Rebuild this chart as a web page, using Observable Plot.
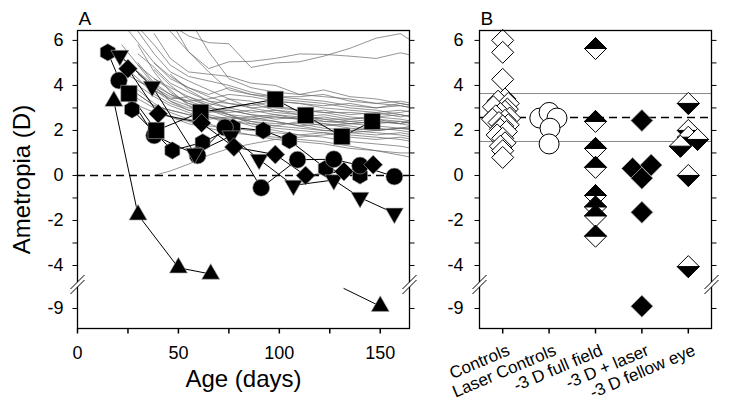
<!DOCTYPE html>
<html><head><meta charset="utf-8">
<script src="https://cdn.jsdelivr.net/npm/d3@7"></script>
<script src="https://cdn.jsdelivr.net/npm/@observablehq/plot@0.6"></script>
<style>
body{margin:0;background:#fff;}
#wrap{position:relative;width:729px;height:408px;overflow:hidden;background:#fff;}
#wrap svg{position:absolute;top:0;}
</style></head><body><div id="wrap"></div>
<script>
// ---------- Panel A data ----------
const controlAges = [22, 30, 38, 46, 55, 65, 75, 86, 98, 110, 122, 135, 148, 160, 166];
const n = null;
const controlCurves = [
  [n, n, 7.2, 6.7, 6.2, 5.9, 5.85, 4.8, 5.0, 5.05, 5.3, 5.65, 6.1, 6.3, 5.95],
  [n, n, n, 6.9, 5.5, 4.75, 5.05, 5.07, 5.2, 5.4, 5.38, 5.3, 5.2, 5.45, 5.33],
  [7.2, 6.4, 5.4, 4.6, 4.2, 3.8, 3.4, 3.3, 3.0, 2.9, 2.8, 2.6, 2.5, 2.4, 2.3],
  [6.8, 5.9, 5.0, 4.3, 3.9, 3.5, 3.2, 3.1, 3.3, 3.2, 3.0, 2.9, 2.8, 2.9, 2.8],
  [n, 6.6, 5.8, 4.9, 4.4, 4.2, 4.0, 3.7, 3.5, 3.4, 3.3, 3.1, 3.0, 3.1, 3.0],
  [5.2, 4.6, 4.0, 3.6, 3.2, 3.0, 2.9, 2.7, 2.6, 2.5, 2.6, 2.4, 2.3, 2.4, 2.3],
  [n, 5.4, 4.8, 4.1, 3.7, 3.3, 3.0, 2.8, 2.9, 2.7, 2.5, 2.5, 2.6, 2.5, 2.4],
  [n, n, 6.3, 5.2, 4.6, 4.5, 4.4, 4.1, 4.0, 3.6, 3.5, 3.4, 3.2, 3.1, 3.0],
  [4.6, 4.2, 3.8, 3.4, 3.1, 2.9, 2.6, 2.5, 2.4, 2.2, 2.3, 2.1, 2.0, 2.1, 2.0],
  [n, 4.9, 4.3, 3.9, 3.5, 3.1, 2.7, 2.4, 2.2, 2.1, 2.0, 1.9, 1.8, 1.9, 1.8],
  [n, 5.8, 4.6, 3.7, 3.2, 2.9, 2.8, 2.9, 2.7, 2.6, 2.7, 2.5, 2.6, 2.7, 2.6],
  [n, n, 5.0, 4.4, 3.9, 3.6, 3.9, 3.6, 3.4, 3.3, 3.2, 3.0, 2.9, 2.7, 2.6],
  [4.2, 3.6, 3.1, 2.9, 2.7, 2.6, 2.4, 2.3, 2.2, 2.4, 2.2, 2.3, 2.2, 2.1, 2.2],
  [n, 4.5, 3.9, 3.4, 3.5, 3.2, 3.0, 3.2, 2.9, 2.8, 2.9, 2.7, 2.8, 2.6, 2.7],
  [n, n, 4.7, 4.0, 3.4, 3.1, 3.4, 3.0, 2.8, 2.7, 2.4, 2.4, 2.5, 2.3, 2.2],
  [3.9, 3.4, 3.0, 2.6, 2.4, 2.2, 2.1, 2.0, 1.9, 1.8, 1.9, 1.7, 1.6, 1.7, 1.6],
  [n, 4.0, 3.5, 3.1, 2.8, 2.5, 2.6, 2.4, 2.3, 2.3, 2.1, 2.0, 2.1, 2.0, 1.9],
  [n, n, 4.3, 3.8, 3.1, 2.6, 2.3, 2.5, 2.6, 2.5, 2.4, 2.3, 2.4, 2.3, 2.5],
  [5.8, 4.9, 4.0, 3.3, 2.9, 2.7, 2.5, 2.2, 2.0, 1.8, 1.7, 1.5, 1.4, 1.3, 1.2],
  [n, 3.8, 3.2, 2.8, 2.5, 2.3, 2.0, 1.8, 1.7, 1.6, 1.5, 1.3, 1.1, 1.0, 1.0],
  [n, n, 0.0, 0.2, 0.5, 0.9, 1.2, 1.4, 1.6, 1.7, 1.8, 1.9, 2.0, 2.1, 2.1],
  [n, 5.0, 4.1, 3.6, 3.3, 3.4, 3.6, 3.5, 3.3, 3.2, 3.1, 3.2, 3.0, 3.2, 3.1],
  [n, n, n, 4.5, 3.8, 3.3, 3.2, 3.0, 3.1, 2.9, 2.8, 2.8, 2.7, 2.8, 2.9],
  [4.9, 4.3, 3.6, 3.2, 2.9, 2.8, 2.9, 2.7, 2.5, 2.6, 2.5, 2.3, 2.4, 2.3, 2.4],
  [n, 4.2, 3.8, 3.3, 3.0, 2.9, 2.7, 2.6, 2.7, 2.5, 2.3, 2.2, 2.0, 2.1, 2.1],
  [n, n, 3.9, 3.5, 3.3, 3.0, 2.7, 2.3, 2.1, 2.0, 1.9, 1.8, 1.7, 1.6, 1.5],
  [3.5, 3.1, 2.8, 2.6, 2.3, 2.1, 1.9, 1.8, 1.6, 1.5, 1.4, 1.2, 1.1, 0.9, 0.8],
  [n, n, n, 6.4, 5.5, 4.6, 3.8, 3.6, 3.5, 3.5, 3.6, 3.3, 3.2, 3.3, 3.2],
  [n, 3.6, 3.1, 2.9, 2.7, 2.6, 2.5, 2.6, 2.4, 2.2, 2.0, 2.0, 1.9, 1.8, 1.7],
  [n, n, n, n, 7.0, 5.5, 4.3, 3.9, 3.7, 3.6, 3.8, 3.5, 3.4, 3.2, 3.1]
];
const hexagonAges = [15, 27, 47, 62, 77, 92, 105, 123, 140];
const hexagonVals = [5.47, 2.93, 1.11, 1.47, 2.13, 2.0, 1.56, 0.31, 0.0];
const circleAges = [20.5, 38, 59.5, 73, 91, 109, 127, 140, 157];
const circleVals = [4.22, 1.78, 0.89, 2.13, -0.55, 0.7, 0.72, 0.44, -0.05];
const squareAges = [25.5, 39, 61, 98, 113, 131, 146];
const squareVals = [3.64, 2.0, 2.8, 3.38, 2.67, 1.73, 2.4];
const triDownAges = [21, 37, 58, 76, 90, 107, 127, 140, 157];
const triDownVals = [5.33, 3.96, 0.98, 1.75, 0.71, -0.44, -0.2, -0.98, -1.68];
const diamondAges = [25, 40, 61.5, 77.5, 98, 113, 132, 146.5];
const diamondVals = [4.74, 2.74, 2.33, 1.26, 0.93, 0.0, 0.18, 0.48];
const triUpAges = [18, 30, 50, 66];
const triUpVals = [3.3, -1.75, -4.1, -4.38];
const triUpTailAges = [132, 150];
const triUpTailVals = [-8.11, -8.9];

const xMajorA = [0, 50, 100, 150];
const xMinorA = [25, 75, 125];
const yMajor = [-9, -4, -2, 0, 2, 4, 6];
const yMinor = [-3, -1, 1, 3, 5];

// ---------- Panel B data ----------
const categories = ["Controls", "Laser Controls", "-3 D full field", "-3 D + laser", "-3 D fellow eye"];
const controlsVals = [6.0, 5.47, 4.27, 3.4, 3.3, 3.2, 3.05, 2.95, 2.85, 2.75, 2.65, 2.55, 2.5, 2.45, 2.35, 2.25, 2.2, 2.05, 1.95, 1.8, 1.65, 1.45, 1.3, 1.1, 0.8];
const controlsOffset = [0, 0, 0, 0.05, -0.1, 0.12, -0.2, 0.1, 0.05, -0.05, -0.15, 0.15, -0.22, 0.05, -0.08, 0.12, 0, -0.05, 0.08, -0.12, 0, 0.05, -0.05, 0, 0];
const laserControlVals = [2.55, 2.8, 2.55, 2.1, 1.4];
const laserControlOffset = [-0.2, 0, 0.17, 0.02, 0];
const fullFieldVals = [5.64, 2.4, 1.2, 0.36, -0.89, -1.4, -1.8, -2.7];
const laserVals = [2.44, 0.31, -0.12, 0.46, -1.64, -8.9];
const laserOffset = [0, -0.2, 0, 0.2, 0, 0];
const fellowVals = [3.2, 2.0, 1.7, 1.6, 1.3, 0.0, -4.05];
const fellowOffset = [0, 0, 0, 0.2, -0.17, 0, 0];
const controlMean = 2.58, controlUpper = 3.64, controlLower = 1.51;

// ---------- scales ----------
const yDomain = [-9.89, -8, -4.6, 6.44];
const yRange = [328, 285.5, 278.5, 30];
const yBreak = -7.27;
const font = "'Liberation Sans', Arial, Helvetica, sans-serif";

// ---------- custom symbols ----------
const R = s => Math.sqrt(s / Math.PI);
const sym = {
  circle: {draw(c, s) { const r = R(s); c.moveTo(r, 0); c.arc(0, 0, r, 0, 2 * Math.PI); }},
  square: {draw(c, s) { const r = R(s); c.rect(-r, -r, 2 * r, 2 * r); }},
  diamond: {draw(c, s) { const r = R(s); c.moveTo(0, -r); c.lineTo(r, 0); c.lineTo(0, r); c.lineTo(-r, 0); c.closePath(); }},
  hexagon: {draw(c, s) { const r = R(s); for (let k = 0; k < 6; k++) { const a = Math.PI / 3 * k - Math.PI / 2; const px = r * Math.cos(a), py = r * Math.sin(a); if (k) c.lineTo(px, py); else c.moveTo(px, py); } c.closePath(); }},
  triUp: {draw(c, s) { const r = R(s); c.moveTo(0, -1.155 * r); c.lineTo(r, 0.577 * r); c.lineTo(-r, 0.577 * r); c.closePath(); }},
  triDown: {draw(c, s) { const r = R(s); c.moveTo(0, 1.155 * r); c.lineTo(r, -0.577 * r); c.lineTo(-r, -0.577 * r); c.closePath(); }},
  topHalf: {draw(c, s) { const r = R(s); c.moveTo(-r, 0); c.lineTo(0, -r); c.lineTo(r, 0); c.closePath(); }},
  bottomHalf: {draw(c, s) { const r = R(s); c.moveTo(-r, 0); c.lineTo(0, r); c.lineTo(r, 0); c.closePath(); }},
  tickLeft: {draw(c) { c.moveTo(-5, 0); c.lineTo(0, 0); }},
  tickRight: {draw(c) { c.moveTo(0, 0); c.lineTo(5, 0); }},
  tickDown: {draw(c) { c.moveTo(0, 0); c.lineTo(0, 5); }},
  breakMask: {draw(c) { c.moveTo(-7, 9.5); c.lineTo(7, -4.5); c.lineTo(7, -9.5); c.lineTo(-7, 4.5); c.closePath(); }},
  breakSlash: {draw(c) { c.moveTo(-7, 9.5); c.lineTo(7, -4.5); c.moveTo(-7, 4.5); c.lineTo(7, -9.5); }}
};

function axisMarks(xmin, xmax, labelDx) {
  return [
    Plot.frame({stroke: "black", strokeWidth: 1.3}),
    Plot.dot(yMajor.concat(yMinor), {x: () => xmin, y: d => d, symbol: sym.tickLeft, stroke: "black", fill: "none", strokeWidth: 1}),
    Plot.dot(yMajor.concat(yMinor), {x: () => xmax, y: d => d, symbol: sym.tickRight, stroke: "black", fill: "none", strokeWidth: 1}),
    Plot.dot([xmin, xmax], {x: d => d, y: () => yBreak, symbol: sym.breakMask, fill: "white", stroke: "none"}),
    Plot.dot([xmin, xmax], {x: d => d, y: () => yBreak, symbol: sym.breakSlash, fill: "none", stroke: "black", strokeWidth: 1}),
    Plot.text(yMajor, {y: d => d, frameAnchor: "left", dx: labelDx, textAnchor: "end", lineAnchor: "middle", text: d => String(d), fontSize: 18, fill: "black"})
  ];
}

// half-filled diamonds, drawn point by point so later points overlap earlier ones
function halfDiamonds(rows, half) {
  return rows.flatMap(r => [
    Plot.dot([r], {x: "x", y: "v", symbol: sym.diamond, r: 11, fill: "white", stroke: "black", strokeWidth: 1}),
    Plot.dot([r], {x: "x", y: "v", symbol: half, r: 11, fill: "black", stroke: "black", strokeWidth: 1})
  ]);
}

// ---------- Panel A ----------
const controlRows = [];
controlCurves.forEach((vals, id) => vals.forEach((v, i) => { if (v !== null) controlRows.push({id, age: controlAges[i], v}); }));
const seriesA = [
  {name: "hexagon", ages: hexagonAges, vals: hexagonVals, r: 8.7},
  {name: "circle", ages: circleAges, vals: circleVals, r: 8.5},
  {name: "square", ages: squareAges, vals: squareVals, r: 8.2},
  {name: "triDown", ages: triDownAges, vals: triDownVals, r: 9},
  {name: "diamond", ages: diamondAges, vals: diamondVals, r: 9.5},
  {name: "triUp", ages: triUpAges, vals: triUpVals, r: 9}
];
const rowsA = seriesA.flatMap(s => s.ages.map((a, i) => ({series: s.name, age: a, v: s.vals[i]})));
const tailRows = triUpTailAges.map((a, i) => ({age: a, v: triUpTailVals[i]}));

const plotA = Plot.plot({
  width: 420, height: 408,
  marginLeft: 77, marginRight: 11, marginTop: 30, marginBottom: 80,
  x: {type: "linear", domain: [0, 164.5], axis: null},
  y: {type: "linear", domain: yDomain, range: yRange, axis: null},
  style: {fontFamily: font, background: "white", color: "black", overflow: "visible"},
  marks: [
    Plot.line(controlRows, {x: "age", y: "v", z: "id", stroke: "#666", strokeWidth: 0.7, clip: true}),
    Plot.ruleY([0], {stroke: "black", strokeWidth: 1.5, strokeDasharray: "8,5"}),
    Plot.line(rowsA, {x: "age", y: "v", z: "series", stroke: "black", strokeWidth: 1}),
    Plot.line(tailRows, {x: "age", y: "v", stroke: "black", strokeWidth: 1}),
    ...seriesA.map(s => Plot.dot(rowsA.filter(d => d.series === s.name), {x: "age", y: "v", symbol: sym[s.name], r: s.r, fill: "black", stroke: "#aaa", strokeWidth: 0.6})),
    Plot.dot(tailRows.slice(-1), {x: "age", y: "v", symbol: sym.triUp, r: 9, fill: "black", stroke: "#aaa", strokeWidth: 0.6}),
    ...axisMarks(0, 164.5, -14),
    Plot.dot(xMajorA.concat(xMinorA), {x: d => d, y: () => yDomain[0], symbol: sym.tickDown, stroke: "black", fill: "none"}),
    Plot.text(xMajorA, {x: d => d, frameAnchor: "bottom", dy: 25, lineAnchor: "middle", text: d => String(d), fontSize: 18, fill: "black"}),
    Plot.text(["Age (days)"], {frameAnchor: "bottom", dy: 51, lineAnchor: "middle", text: d => d, fontSize: 24, fill: "black"}),
    Plot.text(["Ametropia (D)"], {frameAnchor: "left", dx: -55, rotate: -90, textAnchor: "middle", lineAnchor: "middle", text: d => d, fontSize: 24, fill: "black"}),
    Plot.text(["A"], {frameAnchor: "top-left", dx: 1, dy: -12, textAnchor: "start", lineAnchor: "middle", text: d => d, fontSize: 19, fill: "black"})
  ]
});

// ---------- Panel B ----------
const mk = (vals, idx, off) => vals.map((v, i) => ({x: idx + (off ? off[i] : 0), v}));
const ctrlRows = mk(controlsVals, 0, controlsOffset);
const lctrlRows = mk(laserControlVals, 1, laserControlOffset);
const ffRows = mk(fullFieldVals, 2, null);
const lzRows = mk(laserVals, 3, laserOffset);
const feRows = mk(fellowVals, 4, fellowOffset);

const plotB = Plot.plot({
  width: 309, height: 408,
  marginLeft: 59, marginRight: 18, marginTop: 30, marginBottom: 80,
  x: {type: "linear", domain: [-0.5, 4.5], axis: null},
  y: {type: "linear", domain: yDomain, range: yRange, axis: null},
  style: {fontFamily: font, background: "white", color: "black", overflow: "visible"},
  marks: [
    Plot.ruleY([controlUpper, controlLower], {stroke: "#888", strokeWidth: 1}),
    Plot.ruleY([controlMean], {stroke: "black", strokeWidth: 1.5, strokeDasharray: "8,5"}),
    Plot.dot(ctrlRows, {x: "x", y: "v", symbol: sym.diamond, r: 11, fill: "white", stroke: "black", strokeWidth: 1}),
    Plot.dot(lctrlRows, {x: "x", y: "v", symbol: sym.circle, r: 10, fill: "white", stroke: "black", strokeWidth: 1}),
    ...halfDiamonds(ffRows, sym.topHalf),
    Plot.dot(lzRows, {x: "x", y: "v", symbol: sym.diamond, r: 11, fill: "black", stroke: "#aaa", strokeWidth: 0.8}),
    ...halfDiamonds(feRows, sym.bottomHalf),
    ...axisMarks(-0.5, 4.5, -16),
    Plot.dot(categories, {x: (d, i) => i, y: () => yDomain[0], symbol: sym.tickDown, stroke: "black", fill: "none"}),
    Plot.text(categories, {x: (d, i) => i, frameAnchor: "bottom", dx: 6, dy: 21, rotate: -23, textAnchor: "end", lineAnchor: "middle", text: d => d, fontSize: 17, fill: "black"}),
    Plot.text(["B"], {frameAnchor: "top-left", dx: 1, dy: -12, textAnchor: "start", lineAnchor: "middle", text: d => d, fontSize: 19, fill: "black"})
  ]
});

const wrap = document.getElementById("wrap");
plotA.style.left = "0px";
plotB.style.left = "420px";
wrap.appendChild(plotA);
wrap.appendChild(plotB);
</script></body></html>
